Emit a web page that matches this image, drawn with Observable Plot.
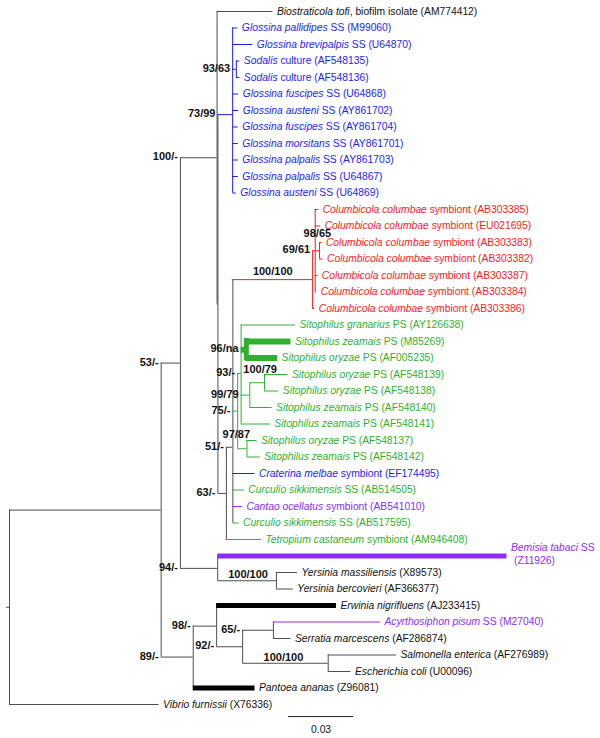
<!DOCTYPE html>
<html>
<head>
<meta charset="utf-8">
<script src="https://cdn.jsdelivr.net/npm/d3@7"></script>
<script src="https://cdn.jsdelivr.net/npm/@observablehq/plot@0.6"></script>
<style>
  html, body { margin: 0; padding: 0; background: #fff; }
  #chart svg { display: block; }
  #chart text { white-space: pre; }
</style>
</head>
<body>
<div id="chart"></div>
<script>
// ---------------- DATA ----------------
// Leaves, top to bottom: italic name part, plain suffix, host group, parent node, branch length (subst./site)
const leafItalic = [
  "Biostraticola tofi", "Glossina pallidipes", "Glossina brevipalpis", "Sodalis", "Sodalis",
  "Glossina fuscipes", "Glossina austeni", "Glossina fuscipes", "Glossina morsitans", "Glossina palpalis",
  "Glossina palpalis", "Glossina austeni",
  "Columbicola columbae", "Columbicola columbae", "Columbicola columbae", "Columbicola columbae",
  "Columbicola columbae", "Columbicola columbae", "Columbicola columbae",
  "Sitophilus granarius", "Sitophilus zeamais", "Sitophilus oryzae", "Sitophilus oryzae", "Sitophilus oryzae",
  "Sitophilus zeamais", "Sitophilus zeamais", "Sitophilus oryzae", "Sitophilus zeamais",
  "Craterina melbae", "Curculio sikkimensis", "Cantao ocellatus", "Curculio sikkimensis", "Tetropium castaneum",
  "Bemisia tabaci", "Yersinia massiliensis", "Yersinia bercovieri", "Erwinia nigrifluens",
  "Acyrthosiphon pisum", "Serratia marcescens", "Salmonella enterica", "Escherichia coli",
  "Pantoea ananas", "Vibrio furnissii"
];
const leafSuffix = [
  ", biofilm isolate (AM774412)", " SS (M99060)", " SS (U64870)", " culture (AF548135)", " culture (AF548136)",
  " SS (U64868)", " SS (AY861702)", " SS (AY861704)", " SS (AY861701)", " SS (AY861703)",
  " SS (U64867)", " SS (U64869)",
  " symbiont (AB303385)", " symbiont (EU021695)", " symbiont (AB303383)", " symbiont (AB303382)",
  " symbiont (AB303387)", " symbiont (AB303384)", " symbiont (AB303386)",
  " PS (AY126638)", " PS (M85269)", " PS (AF005235)", " PS (AF548139)", " PS (AF548138)",
  " PS (AF548140)", " PS (AF548141)", " PS (AF548137)", " PS (AF548142)",
  " symbiont (EF174495)", " SS (AB514505)", " symbiont (AB541010)", " SS (AB517595)", " symbiont (AM946408)",
  " SS\n(Z11926)", " (X89573)", " (AF366377)", " (AJ233415)",
  " SS (M27040)", " (AF286874)", " (AF276989)", " (U00096)",
  " (Z96081)", " (X76336)"
];
const leafGroup = [
  "other", "fly", "fly", "fly", "fly", "fly", "fly", "fly", "fly", "fly", "fly", "fly",
  "louse", "louse", "louse", "louse", "louse", "louse", "louse",
  "beetle", "beetle", "beetle", "beetle", "beetle", "beetle", "beetle", "beetle", "beetle",
  "fly", "beetle", "hemipteran", "beetle", "beetle",
  "hemipteran", "other", "other", "other", "hemipteran", "other", "other", "other", "other", "other"
];
const leafParent = [
  "D", "G", "G", "So", "So", "G", "G", "G", "G", "G", "G", "G",
  "R", "R", "N69", "N69", "R", "R", "Q",
  "I", "N96", "N96", "N100", "N100", "N99", "I", "K", "K",
  "P", "P", "P", "P", "G63",
  "E", "Yer", "Yer", "N98", "N65", "N65", "Sal", "Sal", "C", "root"
];
const leafLength = [
  0.0258, 0.0024, 0.0093, 0.0016, 0.0016, 0.0028, 0.0028, 0.0026, 0.0026, 0.0026, 0.0026, 0.0017,
  0.0016, 0.0025, 0.0011, 0.0016, 0.0012, 0.0007, 0.0010,
  0.0251, 0.0206, 0.0144, 0.0108, 0.0066, 0.0103, 0.0135, 0.0046, 0.0061,
  0.0102, 0.0053, 0.0044, 0.0028, 0.0162,
  0.1335, 0.0097, 0.0078, 0.0553, 0.0494, 0.0081, 0.0315, 0.0105, 0.0285, 0.0690
];

// Internal nodes: name, parent, branch length, bootstrap support (ML/MP)
const nodeName    = ["root", "A", "B", "D", "Y", "G", "So", "G63", "P", "Q", "R", "N69", "J", "I", "N96", "N99", "N100", "K", "E", "Yer", "C", "N98", "N92", "N65", "Sal"];
const nodeParent  = [null, "root", "A", "B", "D", "Y", "G", "Y", "G63", "P", "Q", "R", "P", "J", "I", "I", "N99", "J", "B", "E", "A", "C", "N98", "N92", "N92"];
const nodeLength  = [0.0014, 0.0700, 0.0089, 0.0169, 0.0004, 0.0068, 0.0017, 0.0039, 0.0030, 0.0368, 0.0012, 0.0020, 0.0022, 0.0016, 0.0024, 0.0040, 0.0068, 0.0043, 0.0172, 0.0271, 0.0148, 0.0108, 0.0120, 0.0142, 0.0395];
const nodeSupport = ["", "", "53/-", "100/-", "", "73/99", "93/63", "63/-", "51/-", "100/100", "69/61", "98/65", "75/-", "93/-", "96/na", "99/79", "100/79", "97/87", "94/-", "100/100", "89/-", "98/-", "92/-", "65/-", "100/100"];

const scaleBarLength = 0.03;

// ---------------- STYLE (code side) ----------------
const lineColor = {other: "#4d4d4d", fly: "#1e1ee8", louse: "#f01e1e", beetle: "#30b030", hemipteran: "#8c2cf2"};
const thickColor = {other: "#000000", fly: "#1e1ee8", louse: "#f01e1e", beetle: "#30b030", hemipteran: "#8c2cf2"};
const textColor = {other: "#111111", fly: "#1e1ee8", louse: "#f01e1e", beetle: "#30b030", hemipteran: "#8c2cf2"};
const thickWide = new Set(["N96", "L20", "L21"]);   // emphasised branches
const thickMid  = new Set(["L33", "L36", "L41"]);
const aboveNudge = {Q: [0, -8], N69: [0, -17], N100: [3, -13], K: [-6, -14], Yer: [1, -6], Sal: [-2, -6]};

// ---------------- TREE LAYOUT ----------------
const nodes = new Map();
nodeName.forEach((n, i) => nodes.set(n, {id: n, parent: nodeParent[i], len: nodeLength[i], support: nodeSupport[i], children: [], leaf: false}));
leafItalic.forEach((n, i) => nodes.set("L" + i, {id: "L" + i, parent: leafParent[i], len: leafLength[i], children: [], leaf: true, index: i, group: leafGroup[i]}));
for (const nd of nodes.values()) if (nd.parent) nodes.get(nd.parent).children.push(nd);

const root = nodes.get("root");
(function setDepth(nd, d) { nd.depth = d; nd.children.forEach(c => setDepth(c, d + c.len)); })(root, 0);
(function setY(nd) {
  if (nd.leaf) { nd.y = nd.index; nd.groups = new Set([nd.group]); return nd.y; }
  nd.y = d3.mean(nd.children.map(c => setY(c)));
  nd.groups = new Set(nd.children.flatMap(c => [...c.groups]));
  nd.group = nd.groups.size === 1 ? [...nd.groups][0] : "other";
  return nd.y;
})(root);

const all = [...nodes.values()];
const isThick = id => thickWide.has(id) || thickMid.has(id);
const horiz = all.map(nd => ({
  id: nd.id,
  x1: nd.parent ? nodes.get(nd.parent).depth : -nd.len,
  x2: nd.depth, y: nd.y,
  color: (isThick(nd.id) ? thickColor : lineColor)[nd.group]
}));
const vert = all.filter(nd => !nd.leaf).map(nd => ({
  id: nd.id, x: nd.depth,
  y1: d3.min(nd.children, c => c.y), y2: d3.max(nd.children, c => c.y),
  color: (isThick(nd.id) ? thickColor : lineColor)[nd.group]
}));

const labelsSingle = [], labelsTop = [], labelsBottom = [];
leafItalic.forEach((name, i) => {
  const nd = nodes.get("L" + i);
  const lines = leafSuffix[i].split("\n");
  const row = {x: nd.depth, y: nd.y, fill: textColor[leafGroup[i]], text: name + "|" + lines[0]};
  if (lines.length === 1) labelsSingle.push(row);
  else { labelsTop.push(row); labelsBottom.push({x: nd.depth, y: nd.y, fill: row.fill, text: lines[1]}); }
});

const supports = all.filter(nd => nd.support);
const leftSupports = supports.filter(nd => !(nd.id in aboveNudge)).map(nd => ({x: nodes.get(nd.parent).depth, y: nd.y, text: nd.support}));
const aboveMarks = supports.filter(nd => nd.id in aboveNudge).map(nd => {
  const [dx, dy] = aboveNudge[nd.id];
  const px = nodes.get(nd.parent).depth;
  return Plot.text([{x: (px + nd.depth) / 2, y: nd.y, text: nd.support}], {
    x: "x", y: "y", text: "text", dx, dy, fontSize: 11, fontWeight: "bold", fill: "#111"
  });
});

const lastLeaf = leafItalic.length - 1;
const sbStart = 0.1288;
const scaleBar = [{x1: sbStart, x2: sbStart + scaleBarLength, y: lastLeaf + 0.73, label: String(scaleBarLength)}];

const thin = d => !isThick(d.id);

const chart = Plot.plot({
  width: 600,
  height: 738,
  margin: 0,
  x: {domain: [0, 0.03], range: [9, 74], axis: null},
  y: {domain: [0, lastLeaf], range: [11, 704], axis: null},
  style: {fontFamily: "'Liberation Sans', Arial, sans-serif", background: "#fff", overflow: "visible"},
  marks: [
    Plot.ruleX(vert.filter(thin), {x: "x", y1: "y1", y2: "y2", stroke: "color", strokeWidth: 1}),
    Plot.ruleY(horiz.filter(thin), {y: "y", x1: "x1", x2: "x2", stroke: "color", strokeWidth: 1}),
    Plot.ruleX(vert.filter(d => thickWide.has(d.id)), {x: "x", y1: "y1", y2: "y2", stroke: "color", strokeWidth: 5, insetTop: -3, insetBottom: -3}),
    Plot.ruleY(horiz.filter(d => thickWide.has(d.id)), {y: "y", x1: "x1", x2: "x2", stroke: "color", strokeWidth: 6}),
    Plot.ruleY(horiz.filter(d => thickMid.has(d.id)), {y: "y", x1: "x1", x2: "x2", stroke: "color", strokeWidth: 5}),
    Plot.text(labelsSingle, {x: "x", y: "y", text: "text", fill: "fill", dx: 4, textAnchor: "start", fontSize: 10.3}),
    Plot.text(labelsTop, {x: "x", y: "y", text: "text", fill: "fill", dx: 4, dy: -8, textAnchor: "start", fontSize: 10.3}),
    Plot.text(labelsBottom, {x: "x", y: "y", text: "text", fill: "fill", dx: 7, dy: 4.5, textAnchor: "start", fontSize: 10.3}),
    Plot.text(leftSupports, {x: "x", y: "y", text: "text", dx: -2.5, dy: -1, textAnchor: "end", fontSize: 11, fontWeight: "bold", fill: "#111"}),
    ...aboveMarks,
    Plot.ruleY(scaleBar, {y: "y", x1: "x1", x2: "x2", stroke: "#222", strokeWidth: 1}),
    Plot.text(scaleBar, {x: d => (d.x1 + d.x2) / 2, y: "y", text: "label", dy: 13, fontSize: 10.3, fill: "#111"})
  ]
});

// Italic genus/species part, plain remainder
const NS = "http://www.w3.org/2000/svg";
chart.querySelectorAll("text").forEach(t => {
  const s = t.textContent;
  if (!s.includes("|")) return;
  const [a, b] = s.split("|");
  t.textContent = "";
  const t1 = document.createElementNS(NS, "tspan");
  t1.setAttribute("font-style", "italic");
  t1.textContent = a;
  const t2 = document.createElementNS(NS, "tspan");
  t2.textContent = b;
  t.append(t1, t2);
});

document.getElementById("chart").append(chart);
</script>
</body>
</html>
